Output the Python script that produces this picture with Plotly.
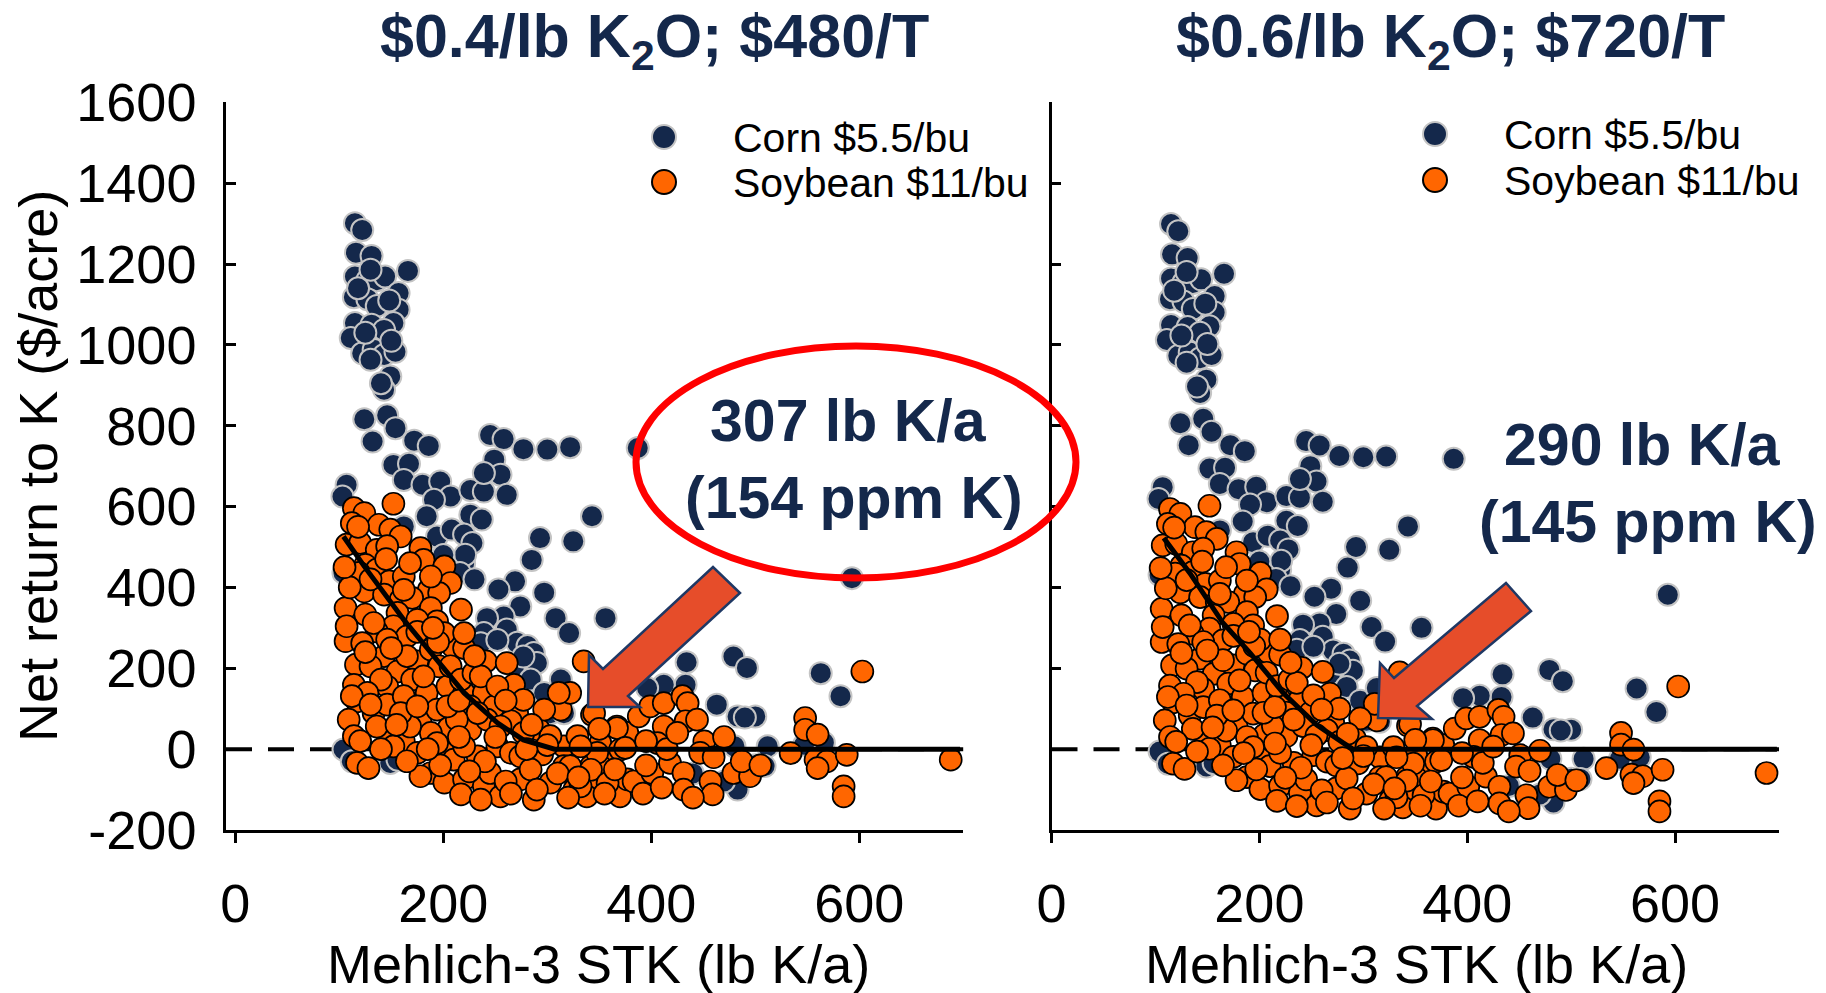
import plotly.graph_objects as go

# ---------------- data ----------------
# Corn sites: Mehlich-3 STK (lb K/a) and net return to K ($/acre)
corn_stk = [115, 122, 116, 131, 166, 115, 127, 136, 144, 130,
            157, 114, 127, 157, 136, 115, 131, 152, 143, 111,
            122, 133, 143, 154, 130, 149, 143, 140, 124, 146,
            154, 132, 172, 186, 245, 258, 277, 300, 322, 387,
            107, 103, 152, 167, 162, 180, 197, 207, 191, 226,
            239, 249, 255, 239, 261, 226, 237, 184, 194, 208,
            220, 228, 162, 343, 293, 325, 285, 220, 104, 269,
            253, 297, 356, 308, 321, 274, 258, 242, 239, 261,
            271, 281, 287, 290, 268, 284, 297, 313, 303, 221,
            216, 236, 252, 277, 265, 313, 316, 593, 479, 492,
            434, 433, 412, 396, 463, 483, 500, 563, 582, 512,
            509, 480, 483, 557, 566, 490, 547, 104, 112, 149,
            156, 440, 470, 500, 200, 190, 230, 118, 148, 125,
            150]
corn_net_04 = [1301, 1284, 1228, 1220, 1183, 1169, 1160, 1160, 1169, 1186,
               1128, 1118, 1113, 1087, 1096, 1054, 1050, 1054, 1037, 1017,
               979, 988, 975, 983, 963, 922, 889, 905, 816, 826,
               794, 761, 763, 750, 777, 767, 742, 741, 747, 745,
               654, 625, 703, 706, 666, 654, 662, 625, 617, 641,
               637, 716, 679, 683, 629, 580, 568, 576, 526, 543,
               531, 510, 551, 576, 522, 514, 468, 459, 436, 415,
               395, 387, 324, 324, 287, 353, 328, 324, 287, 296,
               263, 255, 238, 213, 204, 172, 139, 172, 89, 481,
               436, 262, 270, 229, 150, 122, 89, 423, 229, 201,
               215, 159, 159, 151, 110, 81, 81, 188, 131, 7,
               -42, 7, -100, 32, 16, 78, 11, -1, -30, -34,
               -26, -60, -80, -40, 480, 440, 420, 1140, 1110, 1030,
               1010]
corn_net_06 = [1299, 1281, 1224, 1215, 1176, 1164, 1154, 1153, 1162, 1180,
               1121, 1113, 1107, 1080, 1089, 1049, 1044, 1046, 1030, 1012,
               973, 981, 967, 975, 956, 914, 881, 897, 806, 817,
               785, 752, 752, 737, 762, 751, 725, 722, 724, 718,
               648, 619, 694, 696, 656, 643, 649, 611, 605, 626,
               622, 700, 662, 668, 612, 565, 552, 563, 512, 528,
               516, 494, 541, 551, 500, 493, 449, 444, 431, 397,
               377, 367, 300, 302, 266, 334, 311, 308, 270, 278,
               244, 236, 219, 194, 186, 154, 120, 151, 70, 466,
               421, 246, 253, 211, 133, 101, 68, 382, 196, 168,
               185, 129, 132, 126, 78, 49, 48, 150, 92, -24,
               -74, -24, -132, -3, -20, 46, -24, -6, -36, -43,
               -35, -91, -112, -73, 464, 425, 403, 1134, 1102, 1023,
               1002]

# Soybean sites
soy_stk = [114, 152, 124, 112, 138, 149, 159, 107, 120, 136,
           146, 178, 181, 201, 125, 136, 119, 148, 162, 207,
           186, 196, 124, 143, 159, 170, 106, 125, 156, 188,
           217, 194, 152, 165, 136, 106, 122, 143, 175, 188,
           209, 220, 241, 261, 116, 156, 196, 170, 146, 114,
           184, 204, 220, 239, 268, 117, 133, 146, 162, 178,
           194, 226, 249, 271, 292, 109, 114, 148, 162, 205,
           226, 242, 265, 313, 322, 311, 335, 343, 367, 377,
           117, 128, 152, 175, 188, 201, 210, 233, 252, 265,
           295, 316, 342, 361, 178, 201, 220, 239, 255, 274,
           287, 303, 326, 348, 370, 377, 217, 236, 338, 130,
           140, 165, 181, 207, 217, 229, 233, 213, 188, 168,
           136, 127, 159, 175, 204, 255, 277, 303, 329, 351,
           220, 194, 274, 316, 284, 245, 197, 351, 370, 107,
           112, 133, 175, 146, 162, 168, 188, 201, 220, 236,
           252, 277, 297, 345, 367, 388, 399, 412, 412, 430,
           435, 433, 444, 406, 375, 451, 447, 348, 332, 322,
           342, 358, 383, 401, 418, 431, 431, 457, 459, 479,
           495, 487, 392, 410, 332, 548, 548, 560, 534, 558,
           569, 588, 585, 585, 560, 603, 688, 125, 150, 130,
           155, 185, 215, 250, 240, 260, 290, 310, 330, 300,
           285, 260, 230, 195, 175, 215, 120, 140, 165, 225,
           265, 320, 355, 395, 415, 460, 470, 425, 395, 365,
           505, 440, 110, 130, 145, 118, 105, 190, 280, 350]
soy_net_04 = [596, 607, 584, 559, 555, 543, 526, 506, 510, 493,
              502, 497, 468, 452, 456, 444, 436, 415, 427, 411,
              394, 386, 390, 382, 370, 374, 349, 333, 337, 349,
              345, 316, 304, 279, 291, 267, 262, 230, 217, 246,
              254, 250, 217, 213, 209, 192, 205, 172, 155, 159,
              139, 155, 139, 139, 159, 118, 89, 110, 131, 69,
              98, 106, 106, 89, 48, 73, 32, 32, 19, 52,
              48, 73, 69, 98, 139, 139, 217, 85, 56, 40,
              -34, -47, 7, -9, -59, -9, -26, -18, 7, -9,
              -13, 7, -42, -26, -67, -83, -75, -92, -117, -75,
              -125, -83, -100, -83, -117, -75, -112, -125, -117, 205,
              172, 230, 180, 205, 172, 188, 89, 73, 40, 56,
              56, 139, 89, 106, 106, 56, 40, 32, 32, 15,
              7, 15, -18, -42, -50, -59, -40, -42, -1, 304,
              131, 312, 320, 271, 394, 460, 427, 287, 287, 180,
              155, 122, 98, 89, 52, 81, 106, 114, 56, 131,
              114, 69, 73, 15, 3, 19, -9, -9, 7, -42,
              -51, -84, -80, -59, -34, -59, -100, -80, -112, -59,
              -67, -30, -110, -95, -92, 77, 48, 36, -10, -26,
              -30, -14, -92, -117, -47, 192, -26, 240, 250, 110,
              60, 0, 30, 30, -30, -80, -100, -60, -70, 10,
              60, 120, 230, 265, 290, 120, 20, 0, -30, -55,
              -110, -120, -110, -40, 0, -20, 30, 40, 20, -50,
              -40, -120, 400, 420, 470, 550, 450, 300, 0, 50]
soy_net_06 = [594, 602, 582, 557, 549, 537, 520, 504, 508, 487,
              496, 487, 458, 436, 454, 438, 434, 409, 417, 395,
              384, 376, 388, 376, 364, 364, 347, 331, 331, 339,
              329, 306, 298, 269, 285, 265, 260, 224, 207, 236,
              238, 234, 201, 191, 207, 186, 195, 162, 149, 157,
              129, 139, 123, 123, 137, 116, 83, 104, 121, 59,
              88, 90, 90, 67, 26, 71, 30, 26, 9, 36,
              32, 57, 47, 71, 112, 112, 190, 58, 26, 10,
              -36, -49, 1, -19, -69, -25, -42, -34, -15, -31,
              -35, -20, -69, -56, -77, -99, -91, -108, -139, -97,
              -147, -110, -127, -110, -147, -105, -128, -141, -144, 199,
              166, 220, 170, 189, 156, 172, 73, 57, 30, 46,
              50, 137, 83, 96, 90, 34, 18, 5, 5, -15,
              -9, 5, -40, -69, -72, -75, -50, -72, -31, 302,
              129, 306, 310, 265, 384, 450, 417, 271, 271, 164,
              133, 100, 76, 62, 22, 51, 76, 80, 22, 97,
              80, 35, 39, -19, -27, -15, -43, -36, -20, -69,
              -78, -114, -110, -93, -68, -93, -134, -114, -146, -93,
              -101, -64, -140, -129, -119, 40, 11, -1, -47, -63,
              -67, -51, -129, -154, -84, 155, -59, 238, 244, 108,
              54, -10, 14, 10, -46, -102, -122, -87, -97, -17,
              38, 98, 214, 255, 280, 104, 18, -6, -40, -71,
              -132, -147, -140, -70, -34, -54, -4, 6, -10, -80,
              -77, -154, 398, 418, 464, 548, 448, 290, -22, 23]

# Quadratic-plateau response of net return (vertices of the fitted line)
fit_stk_04 = [104, 124, 162, 188, 220, 252, 277, 307, 697]
fit_net_04 = [526, 452, 320, 238, 139, 65, 23, 0, 0]
fit_stk_06 = [108, 133, 165, 191, 223, 255, 281, 290, 698]
fit_net_06 = [522, 436, 312, 238, 139, 60, 15, 0, 0]

panel_titles = ["$0.4/lb K<sub>2</sub>O; $480/T", "$0.6/lb K<sub>2</sub>O; $720/T"]
critical_text = [("307 lb K/a", "(154 ppm K)"), ("290 lb K/a", "(145 ppm K)")]
series_names = ["Corn $5.5/bu", "Soybean $11/bu"]
x_ticks = [0, 200, 400, 600]
y_ticks = [-200, 0, 200, 400, 600, 800, 1000, 1200, 1400, 1600]
y_tick_text = ["-200", "0", "200", "400", "600", "800", "1000", "1200", "1400", "1600"]

# ---------------- styling ----------------
W, H = 1826, 993
NAVY = "#14284B"
ORANGE = "#FF6600"
CORN_EDGE = "#C4C4C4"
ARROW_FILL = "#E64D2A"
ARROW_EDGE = "#1F3864"
FONT = "Liberation Sans, Arial, sans-serif"


def px(x, y):
    """pixel position -> paper coordinates"""
    return x / W, 1 - y / H


def poly_path(points):
    pts = [px(x, y) for x, y in points]
    return "M " + " L ".join(f"{a:.5f},{b:.5f}" for a, b in pts) + " Z"


fig = go.Figure()

panels = [
    ("x", "y", corn_net_04, soy_net_04, fit_stk_04, fit_net_04),
    ("x2", "y2", corn_net_06, soy_net_06, fit_stk_06, fit_net_06),
]
for xa, ya, c_net, s_net, f_x, f_y in panels:
    fig.add_trace(go.Scatter(
        x=corn_stk, y=c_net, mode="markers", xaxis=xa, yaxis=ya,
        name=series_names[0], showlegend=False,
        marker=dict(size=22, color=NAVY, line=dict(color=CORN_EDGE, width=2))))
    fig.add_trace(go.Scatter(
        x=soy_stk, y=s_net, mode="markers", xaxis=xa, yaxis=ya,
        name=series_names[1], showlegend=False,
        marker=dict(size=22, color=ORANGE, line=dict(color="black", width=1.7))))
    fig.add_trace(go.Scatter(
        x=f_x, y=f_y, mode="lines", xaxis=xa, yaxis=ya, showlegend=False,
        line=dict(color="black", width=5), hoverinfo="skip"))

axis_common = dict(
    showline=True, linecolor="black", linewidth=2.5,
    showgrid=False, zeroline=False, automargin=False,
    tickcolor="black", tickwidth=2.5,
    tickfont=dict(family=FONT, size=54, color="black"),
)

y_dom = [(H - 830) / H, (H - 102.3) / H]
fig.update_layout(
    width=W, height=H, autosize=False,
    margin=dict(l=0, r=0, t=0, b=0, pad=0),
    paper_bgcolor="white", plot_bgcolor="white",
    font=dict(family=FONT, color="black"),
    xaxis=dict(domain=[226 / W, 963.2 / W], range=[-9, 700], anchor="y",
               tickvals=x_ticks, ticks="outside", ticklen=10,
               ticklabelstandoff=14, **axis_common),
    yaxis=dict(domain=y_dom, range=[-200, 1600], anchor="x",
               tickvals=y_ticks, ticktext=y_tick_text,
               ticks="inside", ticklen=10,
               ticklabelstandoff=16, **axis_common),
    xaxis2=dict(domain=[1051.5 / W, 1779 / W], range=[0, 700], anchor="y2",
                tickvals=x_ticks, ticks="outside", ticklen=10,
                ticklabelstandoff=14, **axis_common),
    yaxis2=dict(domain=y_dom, range=[-200, 1600], anchor="x2",
                tickvals=y_ticks, ticks="inside", ticklen=10,
                showticklabels=False, **axis_common),
)

shapes = []
# dashed zero reference line in each panel
for xr, yr in [("x domain", "y"), ("x2 domain", "y2")]:
    shapes.append(dict(type="line", xref=xr, yref=yr, x0=0, x1=1, y0=0, y1=0,
                       layer="below",
                       line=dict(color="black", width=4, dash="26px,16px")))

# block arrows pointing at the critical STK
arrow_left = [(588, 707), (589, 655), (603, 669), (713, 567), (740, 593),
              (628, 696), (640, 707)]
arrow_right = [(1378, 718), (1380, 663), (1394, 678), (1506, 583),
               (1531, 611), (1417, 706), (1432, 719)]
for pts in (arrow_left, arrow_right):
    shapes.append(dict(type="path", xref="paper", yref="paper",
                       path=poly_path(pts), fillcolor=ARROW_FILL,
                       line=dict(color=ARROW_EDGE, width=2.5)))

# red ellipse around the left-panel critical value
ex0, ey0 = px(636, 578)
ex1, ey1 = px(1076, 346)
shapes.append(dict(type="circle", xref="paper", yref="paper",
                   x0=ex0, x1=ex1, y0=ey0, y1=ey1,
                   line=dict(color="#FF0000", width=7)))

# legend keys
legend_pos = [((664, 137), (664, 182), 731), ((1435, 134), (1435, 180), 1502)]
r = 12
for (c_pos, s_pos, _tx) in legend_pos:
    for (cx, cy), fill, edge in [(c_pos, NAVY, CORN_EDGE), (s_pos, ORANGE, "black")]:
        a0, b0 = px(cx - r, cy + r)
        a1, b1 = px(cx + r, cy - r)
        shapes.append(dict(type="circle", xref="paper", yref="paper",
                           x0=a0, x1=a1, y0=b0, y1=b1, fillcolor=fill,
                           line=dict(color=edge, width=2)))

fig.update_layout(shapes=shapes)

ann = []


def text(xp, yp, s, size, bold=False, color="black", xanchor="center",
         textangle=0):
    x, y = px(xp, yp)
    ann.append(dict(xref="paper", yref="paper", x=x, y=y, text=s,
                    showarrow=False, xanchor=xanchor, yanchor="middle",
                    textangle=textangle,
                    font=dict(family=FONT, size=size, color=color,
                              weight="bold" if bold else "normal")))


# panel titles
text(654, 40, panel_titles[0], 61, bold=True, color=NAVY)
text(1450, 40, panel_titles[1], 61, bold=True, color=NAVY)

# axis titles
text(38, 466, "Net return to K ($/acre)", 54, textangle=-90)
text(598, 964, "Mehlich-3 STK (lb K/a)", 54)
text(1416, 964, "Mehlich-3 STK (lb K/a)", 54)

# legends
for (c_pos, s_pos, tx) in legend_pos:
    text(tx, c_pos[1] + 1, series_names[0], 41, xanchor="left")
    text(tx, s_pos[1] + 1, series_names[1], 41, xanchor="left")

# critical STK call-outs
text(848, 421, critical_text[0][0], 59, bold=True, color=NAVY)
text(854, 498, critical_text[0][1], 59, bold=True, color=NAVY)
text(1642, 445, critical_text[1][0], 59, bold=True, color=NAVY)
text(1648, 522, critical_text[1][1], 59, bold=True, color=NAVY)

fig.update_layout(annotations=ann)

fig.write_html("out.html")
